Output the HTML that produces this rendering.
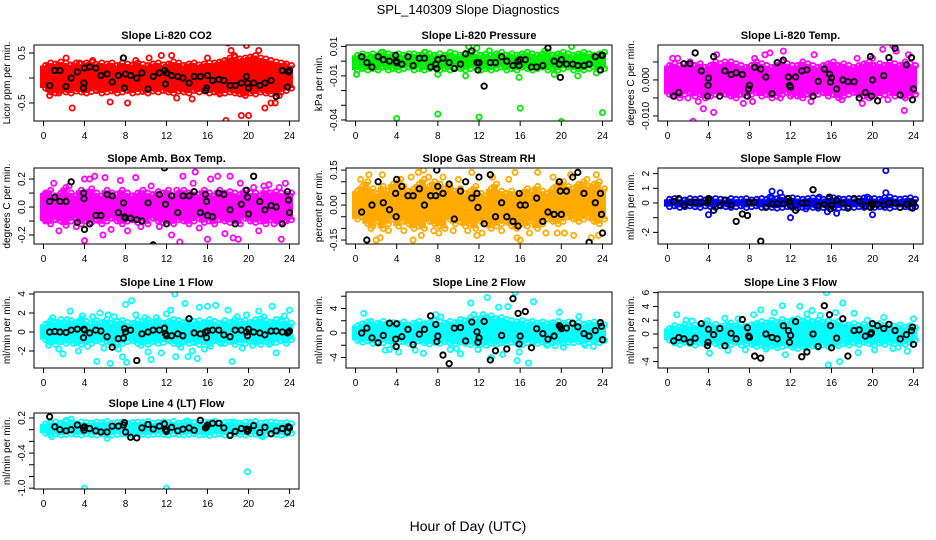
<!DOCTYPE html>
<html><head><meta charset="utf-8"><title>SPL_140309 Slope Diagnostics</title>
<style>
html,body{margin:0;padding:0;background:#fff;}
svg{display:block;font-family:"Liberation Sans",Arial,sans-serif;}
</style></head>
<body>
<svg id="chart" width="936" height="540" viewBox="0 0 936 540" xmlns="http://www.w3.org/2000/svg">
<rect x="0" y="0" width="936" height="540" fill="#fff"/>
<text x="468" y="14" font-size="13" text-anchor="middle">SPL_140309  Slope Diagnostics</text>
<text x="468" y="531" font-size="14" text-anchor="middle">Hour of Day (UTC)</text>
</svg>
<script>
const hoursCore=[0,0.5,1,1.5,2,2.5,3,3.5,4,4.5,5,5.5,6,6.5,7,7.5,8,8.5,9,9.5,10,10.5,11,11.5,12,12.5,13,13.5,14,14.5,15,15.5,16,16.5,17,17.5,18,18.5,19,19.5,20,20.5,21,21.5,22,22.5,23,23.5,24];
const blackHours=[0.6,1.1,1.6,2.2,2.7,3.3,3.9,3.95,4,4.5,5.1,5.6,6.2,6.7,7.3,7.8,7.9,8,8.5,9.1,9.6,10.2,10.7,11.3,11.8,11.9,12,12.5,13.1,13.6,14.2,14.7,15.3,15.8,15.9,16,16.5,17.1,17.6,18.2,18.7,19.3,19.8,19.9,20,20.5,21.1,21.6,22.2,22.7,23.3,23.8,23.9,24];
const xTicks=[0,4,8,12,16,20,24];

// CO2
const co2Hi=[0.25,0.3,0.28,0.32,0.3,0.26,0.3,0.28,0.3,0.32,0.27,0.3,0.28,0.3,0.25,0.3,0.28,0.26,0.3,0.27,0.25,0.28,0.3,0.26,0.28,0.32,0.3,0.25,0.28,0.3,0.26,0.28,0.3,0.3,0.32,0.35,0.4,0.42,0.38,0.4,0.42,0.45,0.4,0.38,0.35,0.32,0.3,0.28,0.25];
const co2Lo=[-0.2,-0.28,-0.3,-0.25,-0.28,-0.3,-0.26,-0.28,-0.3,-0.27,-0.25,-0.3,-0.28,-0.26,-0.3,-0.28,-0.25,-0.3,-0.28,-0.27,-0.3,-0.26,-0.28,-0.25,-0.28,-0.3,-0.26,-0.28,-0.3,-0.25,-0.28,-0.26,-0.3,-0.28,-0.32,-0.3,-0.28,-0.3,-0.32,-0.35,-0.3,-0.32,-0.28,-0.3,-0.32,-0.3,-0.28,-0.25,-0.2];
const co2OutX=[0.6,1.5,2.2,2.8,3.5,4.8,5.2,6.5,7.5,8.2,9,10.3,11.5,12.5,13,14.5,16,17.2,17.8,18,18.3,18.6,19.3,19.8,19.6,20,21,21.6,22.2,22.6,23.5,23];
const co2OutY=[-0.35,-0.3,0.4,-0.6,0.3,0.35,-0.25,-0.48,0.2,-0.5,0.35,0.4,0.45,0.45,-0.4,-0.42,0.4,-0.3,-0.85,0.7,0.55,0.45,-0.75,0.65,-0.3,-0.75,0.55,-0.6,-0.5,-0.5,0.25,-0.35];
const co2Black=[-0.15,0.15,0.15,-0.17,0,0.12,-0.2,-0.1,0.2,0.22,0.2,0.05,0.08,-0.08,0.05,0.4,-0.2,0.08,0.05,0,0.1,-0.22,0.03,0.1,0.15,-0.12,0.1,0.05,0.03,0,-0.1,0.03,0.03,-0.25,-0.2,0.05,-0.05,-0.03,-0.05,-0.15,-0.15,-0.1,0.03,-0.1,-0.2,-0.1,-0.15,-0.1,-0.05,-0.37,0.15,-0.18,0.12,0.15];

// Pressure
const presHi=[0.004,0.005,0.004,0.005,0.004,0.006,0.005,0.004,0.005,0.004,0.005,0.005,0.004,0.006,0.005,0.004,0.005,0.004,0.006,0.005,0.004,0.005,0.006,0.005,0.004,0.005,0.004,0.005,0.006,0.004,0.005,0.004,0.005,0.006,0.005,0.004,0.005,0.006,0.004,0.005,0.006,0.005,0.004,0.005,0.006,0.005,0.004,0.005,0.006];
const presLo=[-0.006,-0.005,-0.006,-0.005,-0.006,-0.004,-0.006,-0.005,-0.006,-0.005,-0.004,-0.006,-0.005,-0.006,-0.005,-0.004,-0.006,-0.005,-0.006,-0.004,-0.005,-0.006,-0.005,-0.004,-0.006,-0.005,-0.006,-0.005,-0.004,-0.006,-0.005,-0.006,-0.004,-0.005,-0.006,-0.005,-0.004,-0.006,-0.005,-0.006,-0.005,-0.004,-0.006,-0.005,-0.006,-0.005,-0.004,-0.006,-0.005];
const presOutX=[4,8,12,16,20,24,15.9,0.1,10.7,8,11,11.8,21,19.3,21.6,13,2.5,6.8,18.4,23.4];
const presOutY=[-0.039,-0.036,-0.038,-0.032,-0.041,-0.035,-0.011,-0.009,-0.01,-0.009,0.01,0.009,0.01,-0.009,-0.01,0.007,0.006,0.006,0.007,-0.008];
const presBlack=[0.003,-0.001,-0.004,0.003,0.001,0,0.004,0,-0.001,-0.002,0.003,-0.003,0.002,0.002,-0.004,-0.002,-0.005,0.001,0.002,-0.001,-0.005,-0.002,0.005,0.007,-0.001,-0.006,-0.001,-0.017,-0.001,-0.001,0.003,0,-0.003,0,-0.003,0.001,0.001,-0.004,-0.004,-0.003,0.009,0,-0.002,-0.011,0.001,-0.002,-0.002,-0.003,-0.003,-0.002,0.003,-0.006,0.004,0.004];

// Li-820 Temp
const tempHi=[0.004,0.0045,0.004,0.0035,0.005,0.004,0.0045,0.0035,0.004,0.005,0.0045,0.004,0.005,0.0045,0.004,0.0035,0.004,0.005,0.0045,0.004,0.0035,0.004,0.005,0.0045,0.004,0.004,0.005,0.0045,0.004,0.0035,0.004,0.0045,0.005,0.004,0.0045,0.004,0.0035,0.004,0.0045,0.005,0.004,0.0045,0.004,0.005,0.0045,0.004,0.005,0.0045,0.004];
const tempLo=[-0.004,-0.0045,-0.005,-0.004,-0.0035,-0.0045,-0.004,-0.005,-0.0045,-0.004,-0.0035,-0.004,-0.0045,-0.005,-0.004,-0.0045,-0.004,-0.0035,-0.0045,-0.004,-0.005,-0.0045,-0.004,-0.0035,-0.004,-0.0045,-0.005,-0.004,-0.0045,-0.004,-0.0035,-0.0045,-0.004,-0.005,-0.0045,-0.004,-0.0035,-0.004,-0.0045,-0.005,-0.004,-0.0045,-0.004,-0.0035,-0.0045,-0.004,-0.005,-0.0045,-0.004];
const tempOutX=[0.5,1,2,2.5,3,3.5,4.5,4.8,5.6,7.4,8.3,8.5,9.5,10,11,11.3,12,14,14.3,17,18.5,19,20,21,21.5,22,22.3,23,23.1,23.5];
const tempOutY=[0.006,0.006,-0.005,-0.0115,-0.006,-0.008,-0.009,0.007,0.005,-0.0065,-0.006,0.006,0.007,0.0075,-0.005,0.008,-0.0045,-0.006,0.007,-0.0055,0.006,-0.0065,0.006,0.0085,-0.0055,0.0095,0.008,-0.0045,-0.0085,0.007];
const tempBlack=[-0.0045,-0.0035,0.0045,0.0045,0.0075,0.0025,-0.0045,-0.0015,0.0005,0.0065,-0.0045,0.0025,0.0015,0.002,0.0015,-0.0045,-0.0025,-0.0015,0.0035,0.003,0.0008,-0.0038,0.0048,0.0055,0.0008,-0.0015,-0.002,0.0008,0.0025,0.0028,-0.0045,-0.0004,0.003,0.0016,-0.0006,0.0006,-0.0025,0,-0.0005,-0.0005,-0.005,-0.0035,0.0065,-0.0045,0,-0.0058,0.0012,0.0062,0.0088,-0.0042,0.0042,0.0062,-0.0055,-0.0025];

// Amb Box Temp
const ambHi=[0.1,0.12,0.08,0.1,0.14,0.1,0.08,0.12,0.1,0.13,0.1,0.08,0.12,0.1,0.09,0.12,0.1,0.08,0.1,0.12,0.1,0.09,0.11,0.1,0.12,0.08,0.1,0.12,0.1,0.11,0.09,0.12,0.1,0.08,0.12,0.1,0.11,0.1,0.09,0.12,0.1,0.1,0.08,0.12,0.1,0.11,0.1,0.09,0.1];
const ambLo=[-0.1,-0.12,-0.09,-0.1,-0.13,-0.1,-0.08,-0.12,-0.1,-0.11,-0.09,-0.12,-0.1,-0.08,-0.1,-0.12,-0.1,-0.09,-0.11,-0.1,-0.12,-0.08,-0.1,-0.11,-0.1,-0.12,-0.09,-0.1,-0.12,-0.1,-0.08,-0.11,-0.1,-0.12,-0.09,-0.1,-0.11,-0.1,-0.12,-0.08,-0.1,-0.11,-0.1,-0.12,-0.09,-0.1,-0.11,-0.1,-0.09];
const ambOutX=[1,1.5,2.5,3.2,4,4,4.5,5,5.8,6,6.6,7.5,8.2,9,9.5,10.5,11.3,12.5,13,13.3,13.6,14.6,14.8,15.2,16,16.3,17,17.7,18.2,18.5,19,19.2,20.5,21,21.5,22,22.5,23,23.2,23.6,23.5,0.2,0.3];
const ambOutY=[0.17,-0.17,0.15,-0.14,-0.24,0.2,0.2,0.22,-0.2,0.21,-0.16,0.19,-0.17,0.21,-0.14,0.15,-0.14,-0.2,0.12,-0.25,0.22,0.17,0.25,-0.15,-0.23,0.2,0.22,-0.19,0.22,-0.22,-0.23,0.17,0.14,-0.17,0.15,0.16,-0.12,0.14,-0.23,0.17,-0.1,-0.09,0.09];
const ambBlack=[0.04,0.07,0.04,0.04,0.18,-0.11,0.1,0.06,-0.16,-0.12,-0.06,-0.06,0.09,0.08,-0.04,0.03,-0.07,-0.08,-0.08,-0.09,-0.1,0.03,-0.27,0.09,0.28,0.02,-0.12,0.08,-0.04,0.08,0.08,0.11,-0.04,0.09,0.04,-0.06,-0.07,0.1,0.09,-0.02,-0.12,0.02,0.12,0.07,-0.05,0.22,0.04,-0.02,0.01,0,-0.12,0.11,0.05,-0.04];

// Gas Stream RH
const rhHi=[0.06,0.08,0.1,0.07,0.05,0.08,0.06,0.09,0.1,0.08,0.06,0.07,0.09,0.11,0.08,0.1,0.09,0.07,0.08,0.06,0.07,0.05,0.06,0.08,0.05,0.04,0.07,0.09,0.06,0.05,0.06,0.04,0.05,0.07,0.06,0.08,0.06,0.05,0.07,0.09,0.1,0.08,0.07,0.09,0.1,0.08,0.09,0.1,0.07];
const rhLo=[-0.06,-0.05,-0.08,-0.09,-0.07,-0.1,-0.08,-0.06,-0.09,-0.07,-0.08,-0.1,-0.09,-0.1,-0.07,-0.08,-0.09,-0.1,-0.06,-0.08,-0.07,-0.09,-0.08,-0.1,-0.07,-0.08,-0.1,-0.09,-0.08,-0.07,-0.09,-0.1,-0.08,-0.09,-0.07,-0.1,-0.08,-0.06,-0.07,-0.08,-0.07,-0.05,-0.06,-0.07,-0.06,-0.05,-0.07,-0.08,-0.06];
const rhOutX=[0.5,1.3,1.5,2,2.4,2.6,3.2,4.4,4.7,5.4,5.6,6.1,6.4,6.6,7.1,7.6,8.1,8.5,9.5,10,10.9,11.3,11.8,12.3,13.3,14.2,14.9,15.5,15.7,16,16.9,17.7,18.5,19.2,19.6,20.3,20.9,21.2,21.6,22.5,22.9,23.4,23.6];
const rhOutY=[0.11,0.13,-0.1,-0.15,-0.14,0.13,-0.11,0.11,-0.11,0.12,-0.15,0.14,-0.13,0.15,0.12,-0.11,-0.12,0.12,-0.11,0.11,-0.11,0.14,-0.13,-0.12,0.12,-0.11,0.11,0.14,-0.14,-0.15,-0.12,0.14,-0.12,0.12,-0.12,-0.12,0.13,-0.13,0.14,0.11,-0.14,0.13,-0.13];
const rhBlack=[-0.03,-0.15,0,0.1,0.01,-0.02,0.05,-0.05,0.11,0.08,0.04,0.04,0.07,0,0.04,0.04,0.15,0.08,0.05,0.09,-0.06,0.06,0.1,0.03,0.05,-0.01,0.12,-0.08,0.13,-0.05,0.01,-0.05,-0.07,-0.09,0.05,0,0,-0.18,0.03,-0.07,-0.03,-0.04,0.1,0.06,-0.04,0.06,0.12,0.14,0.05,-0.16,0.01,0.05,-0.04,-0.12];

// Sample Flow
const sampHi=[0.25,0.3,0.25,0.2,0.3,0.25,0.3,0.2,0.25,0.3,0.25,0.2,0.3,0.25,0.25,0.3,0.2,0.25,0.3,0.25,0.35,0.3,0.4,0.3,0.35,0.3,0.25,0.3,0.35,0.3,0.25,0.3,0.35,0.3,0.25,0.3,0.25,0.3,0.35,0.3,0.3,0.25,0.35,0.4,0.3,0.25,0.3,0.35,0.25];
const sampLo=[-0.25,-0.2,-0.3,-0.25,-0.2,-0.25,-0.3,-0.2,-0.25,-0.3,-0.2,-0.25,-0.3,-0.25,-0.2,-0.3,-0.25,-0.2,-0.3,-0.25,-0.3,-0.35,-0.3,-0.25,-0.3,-0.35,-0.3,-0.25,-0.3,-0.35,-0.3,-0.25,-0.3,-0.35,-0.3,-0.25,-0.3,-0.25,-0.3,-0.25,-0.3,-0.25,-0.3,-0.35,-0.25,-0.3,-0.25,-0.3,-0.25];
const sampOutX=[4,10.2,11,12,15.6,16.5,19.5,20,21.3,21.3,13.5,10,14.8];
const sampOutY=[-0.8,0.8,0.7,-1,-0.6,-0.7,0.4,-0.8,2.2,0.7,-0.4,0.4,0.4];
const sampBlack=[0.1,0.3,-0.15,0.05,0.05,0.05,0.05,0.2,0.3,-0.5,-0.15,0.2,-0.15,-1.25,-0.75,-0.85,0.05,0.05,0.05,-2.6,-0.3,-0.05,-0.05,-0.05,0.3,0.1,-0.2,-0.5,0,0,0.9,-0.2,-0.1,0.4,-0.4,-0.15,0.2,0,-0.35,0.3,0.1,-0.2,-0.3,0,-0.15,-0.1,-0.15,0,0,-0.3,-0.1,0.05,-0.35,0];

// Line 1 Flow
const l1Hi=[0.8,1.2,1.0,1.3,0.9,1.2,1.0,1.4,1.1,0.9,1.2,1.0,1.3,0.9,1.1,1.2,1.0,0.9,1.2,1.1,1.3,1.0,1.2,0.9,1.1,1.3,1.2,1.0,1.4,1.1,1.2,1.0,1.3,1.1,0.9,1.2,1.0,1.3,1.1,1.2,1.0,1.3,1.4,1.2,1.0,1.3,1.1,1.2,0.9];
const l1Lo=[-0.8,-1.1,-1.3,-1.0,-1.2,-0.9,-1.1,-1.3,-1.0,-1.2,-0.9,-1.1,-1.0,-1.3,-1.1,-1.2,-1.0,-0.9,-1.2,-1.1,-1.3,-1.0,-1.2,-1.1,-0.9,-1.2,-1.3,-1.0,-1.2,-1.1,-1.3,-1.0,-1.2,-0.9,-1.1,-1.2,-1.0,-1.3,-1.1,-1.2,-1.0,-1.1,-1.3,-1.0,-1.2,-1.1,-0.9,-1.2,-0.8];
const l1OutX=[0.5,0.9,1.5,1.9,2.3,2.6,2.9,3.4,3.8,4.3,4.8,5.2,5.5,5.9,6.3,6.5,6.9,7.3,7.7,8,8.1,8.6,9,9.5,9.9,10.2,10.5,11,11.5,12,12.4,12.8,12.9,13.4,13.8,14.1,14.5,15,15.2,15.7,16,16.3,16.8,17.3,18,18.4,18.9,19.4,19.8,20.4,21,21.5,22,22.3,22.7,23.2,23.5,24];
const l1OutY=[-1.4,1.5,-1.8,-2.3,1.3,2.2,-1.2,-2.0,1.7,-1.5,1.6,-3.1,2.0,-1.7,1.8,-3.3,1.6,-1.8,-2.6,2.9,-3.2,3.3,1.8,-1.4,1.5,-2.1,-2.9,1.5,-2.2,1.9,2.3,4.0,-2.6,-1.6,3.0,-2.6,-2.0,-2.8,2.6,-1.8,2.7,-1.5,2.8,-1.2,2.3,-3.1,1.6,-1.7,1.8,-1.4,2.2,1.6,-1.3,2.7,-2.2,1.3,1.7,2.3];
const l1Black=[0,0.05,0,-0.05,0.2,0.3,-0.6,0.3,0.2,-0.1,0.2,0.1,-0.5,-1.6,-0.7,-0.65,0.35,0,0.2,-3.0,-0.2,0,0.2,0.2,0.4,-0.2,-0.4,-0.4,-0.2,-0.4,1.4,-0.1,-0.2,0,-0.6,0.1,0.2,0.2,-0.3,-0.5,0.2,0.2,0,-0.4,0.3,0,-0.1,-0.3,0.1,0.1,0,-0.1,0,0.1];

// Line 2 Flow
const l2Hi=[1.2,1.5,1.8,1.3,1.6,1.9,1.4,1.7,1.5,1.8,1.3,1.6,1.9,1.5,1.7,2.0,1.8,1.6,1.9,1.7,2.2,2.0,2.5,2.2,2.4,2.6,2.8,2.3,2.5,2.2,2.0,1.8,2.0,1.7,1.9,1.6,1.8,1.5,1.7,1.9,1.6,1.8,1.5,1.7,1.4,1.6,1.8,1.5,1.3];
const l2Lo=[-1.2,-1.5,-1.3,-1.7,-1.4,-1.6,-1.3,-1.8,-1.5,-1.4,-1.7,-1.5,-1.3,-1.6,-1.8,-1.5,-1.7,-1.4,-1.6,-1.8,-1.5,-1.7,-1.9,-1.6,-1.8,-2.0,-1.7,-1.9,-1.6,-1.8,-1.5,-1.7,-1.9,-1.6,-1.4,-1.7,-1.5,-1.8,-1.6,-1.4,-1.7,-1.5,-1.6,-1.4,-1.7,-1.5,-1.3,-1.6,-1.2];
const l2OutX=[0.8,1.5,2.9,3.3,4.2,5.8,6.6,7.8,8.3,9.2,9.8,10.2,11.2,11.5,11.9,12.4,12.8,13.2,13.9,14.3,14.8,15.5,15.7,15.9,16.8,17.3,18.6,19.4,19.8,20.2,21.7,22.3,23.1];
const l2OutY=[3.2,1.9,-2.8,-2.7,-3.1,-2.8,-3.3,3.0,2.6,-2.7,-2.5,-3.4,4.9,3.0,-2.7,3.0,5.8,-4.0,4.2,-3.5,4.3,6.6,-4.5,-3.1,-4.9,5.1,-2.0,-2.1,3.4,-2.3,2.7,-2.0,-2.2];
const l2Black=[0,0.8,-0.8,-1.6,-0.4,1.6,-1.0,-2.2,1.5,-0.6,0.6,-1.9,-0.2,0.6,2.8,1.4,-1.4,-0.5,-3.6,-5.0,0.8,0.9,-1.3,1.8,0.2,-1.5,-0.8,1.9,-4.4,-2.9,-0.4,-2.6,5.6,3.2,-1.8,-0.5,3.5,-2.4,0.7,-0.1,-1.0,-0.5,1.2,1.0,0.7,0.8,1.6,1.0,-0.1,-0.5,0.4,1.7,1.1,-1.1];

// Line 3 Flow
const l3Hi=[0.8,1.2,1.0,1.4,1.1,1.3,1.0,1.5,1.2,1.4,1.1,1.3,1.6,1.2,1.4,1.1,1.3,1.5,1.8,1.6,2.0,1.7,2.1,1.8,2.0,2.2,1.9,2.1,1.8,2.0,1.7,1.9,1.6,1.8,1.5,1.3,1.5,1.2,1.4,1.1,1.3,1.5,1.2,1.4,1.1,1.3,1.0,1.2,0.9];
const l3Lo=[-0.9,-1.3,-1.5,-1.2,-1.4,-1.6,-1.3,-1.5,-1.2,-1.4,-1.7,-1.3,-1.5,-1.2,-1.6,-1.4,-1.5,-1.8,-1.6,-1.9,-1.7,-2.0,-1.8,-1.6,-1.9,-2.1,-1.8,-2.0,-1.7,-1.9,-1.6,-1.8,-1.5,-1.7,-1.4,-1.6,-1.3,-1.5,-1.2,-1.4,-1.6,-1.3,-1.5,-1.2,-1.4,-1.3,-1.5,-1.2,-0.9];
const l3OutX=[0.9,1.8,2.4,3.9,4.1,5.6,5.9,6.9,7.6,8.4,9.1,9.6,10.4,11.2,11.5,12.3,12.9,13.6,14.1,14.9,15.5,15.7,16.4,16.8,17.1,18.2,18.6,19.5,20.2,21.1,22.0,22.5,23.4,24.0];
const l3OutY=[2.8,2.0,1.9,1.9,-2.8,2.3,-2.4,2.2,-2.3,2.8,3.5,-2.2,3.1,4.1,-3.0,1.8,4.0,2.9,3.4,2.7,6.0,-4.5,3.1,-4.0,4.5,3.0,-2.7,2.0,-2.3,2.4,-2.1,-1.9,-2.5,2.2];
const l3Black=[-1.0,-0.5,-0.7,-1.2,-0.6,1.5,-1.7,-1.2,0.7,-0.1,0.8,-1.7,0.1,-0.7,2.1,0.9,-0.3,-0.5,-3.2,-3.5,0,-0.5,-0.7,1.2,0.5,-1.2,-0.2,1.8,-3.3,-2.6,0,-1.8,4.1,2.8,1.2,-2.0,-0.6,2.2,-3.2,0.5,0.6,-0.3,0,0.2,1.5,1.2,0.8,1.4,0.5,-0.7,-0.1,0.5,1.0,-1.5];

// Line 4 (LT) Flow
const l4Hi=[0.1,0.12,0.13,0.11,0.14,0.12,0.1,0.13,0.12,0.11,0.13,0.12,0.14,0.11,0.12,0.13,0.11,0.12,0.13,0.12,0.14,0.11,0.12,0.13,0.12,0.14,0.11,0.12,0.13,0.12,0.11,0.13,0.12,0.14,0.11,0.12,0.13,0.12,0.11,0.13,0.12,0.14,0.11,0.12,0.13,0.12,0.11,0.12,0.1];
const l4Lo=[-0.06,-0.08,-0.07,-0.09,-0.08,-0.07,-0.08,-0.09,-0.07,-0.08,-0.09,-0.07,-0.08,-0.09,-0.08,-0.07,-0.08,-0.09,-0.07,-0.08,-0.09,-0.08,-0.07,-0.08,-0.09,-0.07,-0.08,-0.09,-0.08,-0.07,-0.09,-0.08,-0.1,-0.08,-0.07,-0.09,-0.08,-0.07,-0.08,-0.09,-0.07,-0.08,-0.1,-0.08,-0.07,-0.08,-0.09,-0.07,-0.06];
const l4OutX=[4,12,19.9,0.8,2.7,6.2,2.2,14,18.5,21.4];
const l4OutY=[-1.0,-1.0,-0.72,-0.12,0.18,-0.15,0.16,0.15,0.13,-0.12];
const l4Black=[0.22,0.05,0,-0.02,0,0.08,0.03,-0.01,0.05,0.02,-0.02,-0.04,-0.04,0.06,0.06,0.08,0.12,-0.04,-0.13,-0.14,0.03,0.09,0.01,0.06,0.1,0,-0.03,0.04,-0.02,0.01,0.03,-0.01,0.16,0.03,0.05,0.08,0.11,0.11,0.03,-0.1,-0.03,0.02,0.01,-0.03,0,0.07,-0.05,0.04,-0.07,-0.02,0.02,-0.04,0.05,0.03];

// y-axis ticks per panel
const co2Ticks=[-0.5,0,0.5], co2Labels=["-0.5","","0.5"];
const presTicks=[-0.04,-0.03,-0.02,-0.01,0,0.01], presLabels=["-0.04","","","-0.01","","0.01"];
const tempTicks=[-0.01,-0.005,0,0.005], tempLabels=["-0.010","","0.000",""];
const ambTicks=[-0.2,-0.1,0,0.1,0.2], ambLabels=["-0.2","","0.0","","0.2"];
const rhTicks=[-0.15,-0.1,-0.05,0,0.05,0.1,0.15], rhLabels=["-0.15","","","0.00","","","0.15"];
const sampTicks=[-2,-1,0,1,2], sampLabels=["-2","","0","1","2"];
const l1Ticks=[-2,0,2,4], l1Labels=["-2","0","2","4"];
const l2Ticks=[-4,-2,0,2,4,6], l2Labels=["-4","","0","","4",""];
const l3Ticks=[-4,-2,0,2,4,6], l3Labels=["-4","","0","2","4","6"];
const l4Ticks=[-1,-0.8,-0.6,-0.4,-0.2,0,0.2], l4Labels=["-1.0","","","-0.4","","","0.2"];

const NS="http://www.w3.org/2000/svg";
const svg=document.getElementById('chart');
function mk(tag,attrs,parent){const e=document.createElementNS(NS,tag);for(const k in attrs)e.setAttribute(k,attrs[k]);parent.appendChild(e);return e;}

const cols=[{x0:34,x1:299},{x0:346,x1:612},{x0:658,x1:923}];
const rows=[{y0:45,y1:121},{y0:168,y1:244},{y0:292,y1:368},{y0:413,y1:489}];

const panels=[
 {key:'co2',title:'Slope Li-820 CO2',ylab:'Licor ppm per min.',c:0,r:0,col:'#ff0000',dom:[-0.86,0.66],hi:co2Hi,lo:co2Lo,ox:co2OutX,oy:co2OutY,bk:co2Black,tk:co2Ticks,tl:co2Labels},
 {key:'pressure',title:'Slope Li-820 Pressure',ylab:'kPa per min.',c:1,r:0,col:'#00ee00',dom:[-0.0407,0.011],hi:presHi,lo:presLo,ox:presOutX,oy:presOutY,bk:presBlack,tk:presTicks,tl:presLabels},
 {key:'li820-temp',title:'Slope Li-820 Temp.',ylab:'degrees C per min.',c:2,r:0,col:'#ff00ff',dom:[-0.0114,0.0097],hi:tempHi,lo:tempLo,ox:tempOutX,oy:tempOutY,bk:tempBlack,tk:tempTicks,tl:tempLabels},
 {key:'amb-box-temp',title:'Slope Amb. Box Temp.',ylab:'degrees C per min.',c:0,r:1,col:'#ff00ff',dom:[-0.264,0.279],hi:ambHi,lo:ambLo,ox:ambOutX,oy:ambOutY,bk:ambBlack,tk:ambTicks,tl:ambLabels},
 {key:'gas-stream-rh',title:'Slope Gas Stream RH',ylab:'percent per min.',c:1,r:1,col:'#ffaa00',dom:[-0.167,0.159],hi:rhHi,lo:rhLo,ox:rhOutX,oy:rhOutY,bk:rhBlack,tk:rhTicks,tl:rhLabels},
 {key:'sample-flow',title:'Slope Sample Flow',ylab:'ml/min per min.',c:2,r:1,col:'#0000ff',dom:[-2.79,2.38],hi:sampHi,lo:sampLo,ox:sampOutX,oy:sampOutY,bk:sampBlack,tk:sampTicks,tl:sampLabels},
 {key:'line1-flow',title:'Slope Line 1 Flow',ylab:'ml/min per min.',c:0,r:2,col:'#00ffff',dom:[-3.79,4.21],hi:l1Hi,lo:l1Lo,ox:l1OutX,oy:l1OutY,bk:l1Black,tk:l1Ticks,tl:l1Labels},
 {key:'line2-flow',title:'Slope Line 2 Flow',ylab:'ml/min per min.',c:1,r:2,col:'#00ffff',dom:[-5.71,6.69],hi:l2Hi,lo:l2Lo,ox:l2OutX,oy:l2OutY,bk:l2Black,tk:l2Ticks,tl:l2Labels},
 {key:'line3-flow',title:'Slope Line 3 Flow',ylab:'ml/min per min.',c:2,r:2,col:'#00ffff',dom:[-4.93,6.09],hi:l3Hi,lo:l3Lo,ox:l3OutX,oy:l3OutY,bk:l3Black,tk:l3Ticks,tl:l3Labels},
 {key:'line4-flow',title:'Slope Line 4 (LT) Flow',ylab:'ml/min per min.',c:0,r:3,col:'#00ffff',dom:[-1.014,0.285],hi:l4Hi,lo:l4Lo,ox:l4OutX,oy:l4OutY,bk:l4Black,tk:l4Ticks,tl:l4Labels}
];

panels.forEach(p=>{
  const C=cols[p.c], R=rows[p.r];
  const xs=h=>C.x0+9.5+h*(C.x1-C.x0-19)/24;
  const ys=v=>R.y1-(v-p.dom[0])/(p.dom[1]-p.dom[0])*(R.y1-R.y0);
  const g=mk('g',{},svg);
  
  
  const clip=mk('clipPath',{id:'clip-'+p.key},g);
  mk('rect',{x:C.x0,y:R.y0,width:C.x1-C.x0,height:R.y1-R.y0},clip);
  const t=mk('text',{x:(C.x0+C.x1)/2,y:R.y0-6,'font-size':11,'font-weight':'bold','text-anchor':'middle'},g);
  t.textContent=p.title;
  
  
  const pts=mk('g',{'clip-path':'url(#clip-'+p.key+')'},g);
  
  
  hoursCore.forEach((h,i)=>{
    const l=mk('line',{x1:xs(h),x2:xs(h),y1:ys(p.lo[i]),y2:ys(p.hi[i]),stroke:p.col,'stroke-width':7},pts);
    
    
    [p.lo[i],p.hi[i]].forEach(v=>{
      const c=mk('circle',{cx:xs(h)+2,cy:ys(v),r:2.6,fill:'none',stroke:p.col,'stroke-width':1.8},pts);
      
      
    });
  });
  p.ox.forEach((h,i)=>{
    const c=mk('circle',{cx:xs(h),cy:ys(p.oy[i]),r:2.6,fill:'none',stroke:p.col,'stroke-width':1.8},pts);
    
    
  });
  const n=Math.min(blackHours.length,p.bk.length);
  for(let i=0;i<n;i++){
    const c=mk('circle',{cx:xs(blackHours[i]),cy:ys(p.bk[i]),r:2.7,fill:'none',stroke:'#000','stroke-width':1.9},pts);
    
    
  }
  const box=mk('rect',{x:C.x0,y:R.y0,width:C.x1-C.x0,height:R.y1-R.y0,fill:'none',stroke:'#000','stroke-width':1},g);
  
  
  xTicks.forEach(h=>{
    mk('line',{x1:xs(h),x2:xs(h),y1:R.y1,y2:R.y1+5,stroke:'#000'},g);
    const tx=mk('text',{x:xs(h),y:R.y1+18,'font-size':10,'text-anchor':'middle'},g);
    tx.textContent=h;
    
    
  });
  p.tk.forEach((v,i)=>{
    const y=ys(v);
    mk('line',{x1:C.x0-5,x2:C.x0,y1:y,y2:y,stroke:'#000'},g);
    if(p.tl[i]){
      const tx=mk('text',{x:0,y:0,'font-size':10,'text-anchor':'middle',transform:'translate('+(C.x0-9)+','+y+') rotate(-90)'},g);
      tx.textContent=p.tl[i];
      
      
    }
  });
  const yl=mk('text',{x:0,y:0,'font-size':10,'text-anchor':'middle',transform:'translate('+(C.x0-24)+','+((R.y0+R.y1)/2)+') rotate(-90)'},g);
  yl.textContent=p.ylab;
  
  
});
</script>
</body></html>
